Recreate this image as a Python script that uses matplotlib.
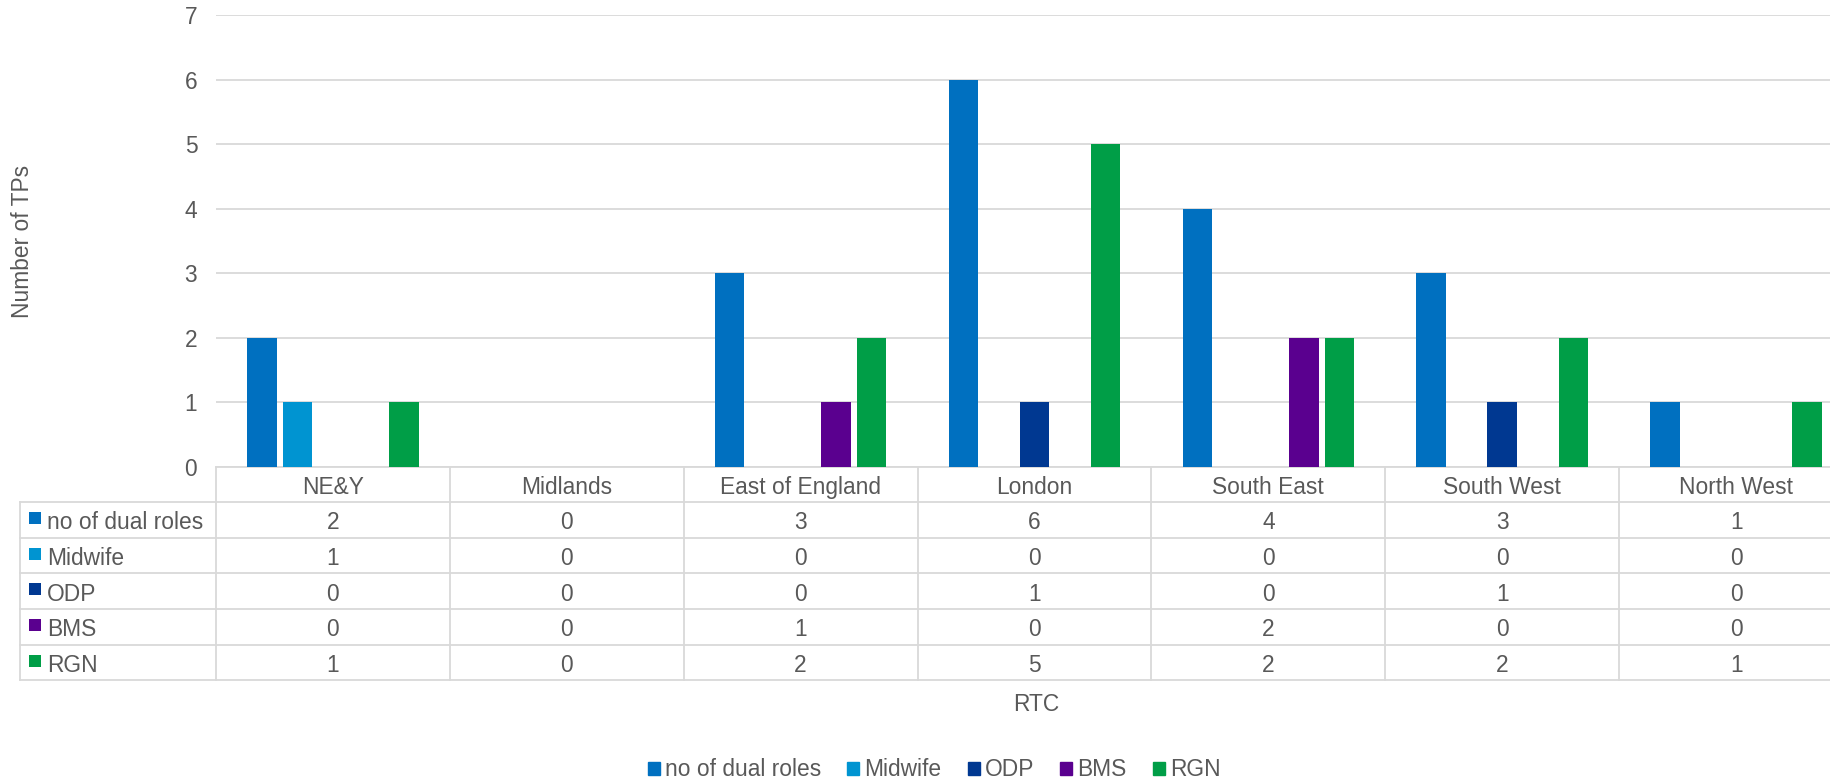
import matplotlib.pyplot as plt
from matplotlib.patches import Patch

# data
regions = ['NE&Y', 'Midlands', 'East of England', 'London', 'South East', 'South West', 'North West']
series_names = ['no of dual roles', 'Midwife', 'ODP', 'BMS', 'RGN']
dual_roles = [2, 0, 3, 6, 4, 3, 1]
midwife = [1, 0, 0, 0, 0, 0, 0]
odp = [0, 0, 0, 1, 0, 1, 0]
bms = [0, 0, 1, 0, 2, 0, 0]
rgn = [1, 0, 2, 5, 2, 2, 1]
y_ticks = [0, 1, 2, 3, 4, 5, 6, 7]

colors = ['#0070C0', '#0094D1', '#003891', '#5A008F', '#009E47']
grid_c = '#D9D9D9'
text_c = '#595959'

plt.rcParams['font.family'] = ['Liberation Sans', 'DejaVu Sans']
fs = 16.4

W, H = 1831, 782
fig = plt.figure(figsize=(W / 100, H / 100), dpi=100)
# plot area runs past the right edge, like the cropped original
ax = fig.add_axes([216 / W, (H - 466.7) / H, 1637 / W, 451.7 / H])

series = [dual_roles, midwife, odp, bms, rgn]
x = list(range(len(regions)))
pitch = 0.152
for i, vals in enumerate(series):
    ax.bar([xi + (i - 2) * pitch for xi in x], vals, width=0.126,
           color=colors[i], linewidth=0, zorder=3)

ax.set_xlim(-0.5, 6.5)
ax.set_ylim(0, 7)
ax.set_yticks(y_ticks)
ax.set_xticks([])
ax.grid(axis='y', color=grid_c, linewidth=1.3, zorder=0)
ax.tick_params(axis='y', length=0, pad=13.5, labelsize=fs, labelcolor=text_c)
for s in ['top', 'right', 'left']:
    ax.spines[s].set_visible(False)
ax.spines['bottom'].set_color(grid_c)
ax.spines['bottom'].set_linewidth(1.3)

# data table under the axis
trans = ax.get_xaxis_transform()
h = 0.0788
left = -1.338
line_kw = dict(transform=trans, color=grid_c, lw=1.3, clip_on=False)
for b in [xi - 0.5 for xi in x] + [6.5]:
    ax.plot([b, b], [0, -6 * h], **line_kw)
ax.plot([left, left], [-h, -6 * h], **line_kw)
for r in range(1, 7):
    ax.plot([left, 6.5], [-r * h, -r * h], **line_kw)

base = 0.0205
for xi, name in zip(x, regions):
    ax.text(xi, -h / 2 - base, name, ha='center', va='baseline',
            transform=trans, fontsize=fs, color=text_c)
for r, (name, vals, c) in enumerate(zip(series_names, series, colors)):
    yc = -(r + 1.5) * h
    ax.plot([-1.274], [yc + 0.004], marker='s', ms=8.5, color=c, mew=0,
            transform=trans, clip_on=False)
    ax.text(-1.224, yc - base, name, ha='left', va='baseline',
            transform=trans, fontsize=fs, color=text_c)
    for xi, v in zip(x, vals):
        ax.text(xi, yc - base, str(v), ha='center', va='baseline',
                transform=trans, fontsize=fs, color=text_c)

fig.text(23 / W, 1 - 241 / H, 'Number of TPs', rotation=90, ha='center', va='center',
         fontsize=fs, color=text_c)
fig.text(1036 / W, 1 - 711 / H, 'RTC', ha='center', va='baseline', fontsize=fs, color=text_c)

handles = [Patch(color=c, label=n) for c, n in zip(colors, series_names)]
fig.legend(handles=handles, loc='center', bbox_to_anchor=(934 / W, 12 / H), ncol=5,
           frameon=False, fontsize=fs, handlelength=0.53, handleheight=0.53,
           handletextpad=0.22, columnspacing=1.15, labelcolor=text_c)

fig.savefig('out.png', dpi=100)
